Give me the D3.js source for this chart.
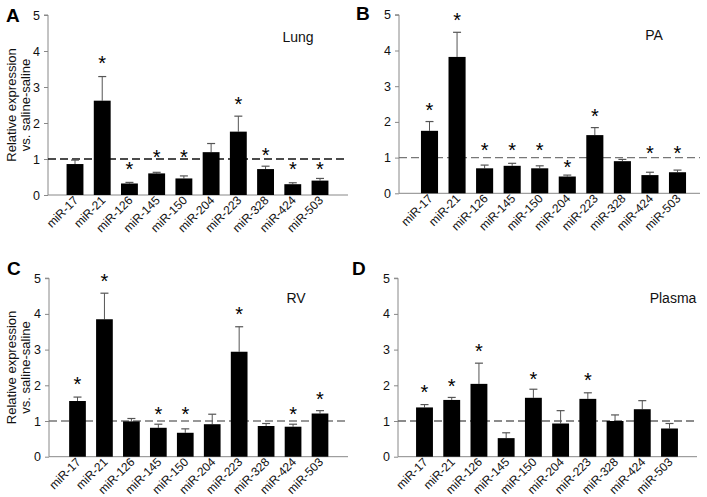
<!DOCTYPE html>
<html><head><meta charset="utf-8">
<script src="https://cdn.jsdelivr.net/npm/d3@7"></script>
<style>body{margin:0;background:#fff;} svg{display:block;font-family:"Liberation Sans",Arial,sans-serif;}</style>
</head><body>
<svg id="c" width="707" height="497"></svg>
<script>
const categories = ["miR-17","miR-21","miR-126","miR-145","miR-150","miR-204","miR-223","miR-328","miR-424","miR-503"];
const yTicks = [0,1,2,3,4,5];

const lungMean = [0.86,2.62,0.32,0.60,0.46,1.19,1.76,0.72,0.30,0.40];
const lungErr  = [0.97,3.29,0.35,0.63,0.53,1.43,2.19,0.80,0.34,0.46];
const lungStar = [null,3.77,0.83,1.16,1.16,null,2.65,1.22,0.83,0.83];

const paMean = [1.75,3.82,0.70,0.77,0.70,0.47,1.63,0.90,0.51,0.59];
const paErr  = [2.01,4.51,0.79,0.84,0.77,0.51,1.84,0.95,0.59,0.65];
const paStar = [2.45,4.98,1.33,1.33,1.33,0.84,2.29,null,1.24,1.24];

const rvMean = [1.56,3.85,0.99,0.81,0.67,0.91,2.94,0.86,0.84,1.21];
const rvErr  = [1.67,4.58,1.07,0.91,0.78,1.19,3.64,0.93,0.91,1.29];
const rvStar = [2.15,5.03,null,1.31,1.31,null,4.11,null,1.31,1.72];

const plMean = [1.38,1.59,2.04,0.52,1.65,0.93,1.62,1.00,1.33,0.79];
const plErr  = [1.46,1.66,2.62,0.67,1.89,1.29,1.79,1.17,1.57,0.93];
const plStar = [1.92,2.10,3.07,null,2.29,null,2.26,null,null,null];

const panels = [
  {letter:"A", title:"Lung", mean:lungMean, err:lungErr, star:lungStar,
   ax0:48, ax1:348, c0:75, c1:320, y0:195, y5:15, ylab:true, dash:"#111", lx:6, ly:22, tx:298, ty:42},
  {letter:"B", title:"PA", mean:paMean, err:paErr, star:paStar,
   ax0:399, ax1:700, c0:429.5, c1:677.5, y0:193.3, y5:14.8, ylab:false, dash:"#777", lx:356, ly:20, tx:654, ty:40},
  {letter:"C", title:"RV", mean:rvMean, err:rvErr, star:rvStar,
   ax0:49, ax1:348, c0:77.5, c1:320, y0:456.7, y5:278.2, ylab:true, dash:"#777", lx:7, ly:275, tx:296, ty:303},
  {letter:"D", title:"Plasma", mean:plMean, err:plErr, star:plStar,
   ax0:398, ax1:697, c0:424.5, c1:669.5, y0:456.7, y5:278.2, ylab:false, dash:"#666", lx:352, ly:275, tx:673, ty:303}
];

const svg = d3.select("#c");
const starSize = 20;

panels.forEach(p => {
  const g = svg.append("g");
  const step = (p.c1 - p.c0) / (categories.length - 1);
  const x = d3.scaleBand().domain(categories)
    .range([p.c0 - step/2, p.c1 + step/2]).paddingInner(0.38).paddingOuter(0.19);
  const y = d3.scaleLinear().domain([0,5]).range([p.y0, p.y5]);
  const bw = x.bandwidth();

  // y axis
  const ya = g.append("g").attr("transform", `translate(${p.ax0},0)`)
    .call(d3.axisLeft(y).tickValues(yTicks).tickFormat(d3.format("d")).tickSize(4).tickPadding(4));
  ya.select(".domain").attr("stroke","#888").attr("d", `M-4,${y(5)}H0V${y(0)}`);
  ya.selectAll(".tick line").attr("stroke","#888");
  ya.selectAll(".tick text").attr("font-size",12.5).attr("fill","#111").attr("font-family","Liberation Sans, Arial, sans-serif");

  // x baseline
  g.append("line").attr("x1",p.ax0).attr("x2",p.ax1).attr("y1",y(0)).attr("y2",y(0))
    .attr("stroke","#888").attr("stroke-width",1);

  // dashed reference at 1
  g.append("line").attr("x1",p.ax0).attr("x2",p.ax1).attr("y1",y(1)).attr("y2",y(1))
    .attr("stroke",p.dash).attr("stroke-width",1.3).attr("stroke-dasharray","8,4");

  const data = categories.map((c,i)=>({c, m:p.mean[i], e:p.err[i], s:p.star[i]}));

  // error bars
  g.selectAll(".eb").data(data).enter().append("line")
    .attr("x1",d=>x(d.c)+bw/2).attr("x2",d=>x(d.c)+bw/2)
    .attr("y1",d=>y(d.m)).attr("y2",d=>y(d.e))
    .attr("stroke","#555").attr("stroke-width",1);
  g.selectAll(".cap").data(data).enter().append("line")
    .attr("x1",d=>x(d.c)+bw/2-4).attr("x2",d=>x(d.c)+bw/2+4)
    .attr("y1",d=>y(d.e)).attr("y2",d=>y(d.e))
    .attr("stroke","#555").attr("stroke-width",1.2);

  // bars
  g.selectAll(".bar").data(data).enter().append("rect")
    .attr("x",d=>x(d.c)).attr("width",bw)
    .attr("y",d=>y(d.m)).attr("height",d=>y(0)-y(d.m))
    .attr("fill","#000");

  // stars
  g.selectAll(".star").data(data.filter(d=>d.s!=null)).enter().append("text")
    .attr("x",d=>x(d.c)+bw/2).attr("y",d=>y(d.s)+starSize*0.55)
    .attr("text-anchor","middle").attr("font-size",starSize).attr("fill","#000")
    .text("*");

  // x labels
  g.selectAll(".xl").data(categories).enter().append("text")
    .attr("transform",d=>`translate(${x(d)+bw/2+4},${y(0)+6}) rotate(-45)`)
    .attr("text-anchor","end").attr("font-size",12).attr("fill","#111")
    .text(d=>d);

  // panel letter
  g.append("text").attr("x",p.lx).attr("y",p.ly).attr("font-size",19).attr("font-weight","bold")
    .attr("font-family","Liberation Sans, Arial, sans-serif").text(p.letter);

  // title
  g.append("text").attr("x",p.tx).attr("y",p.ty).attr("text-anchor","middle")
    .attr("font-size",14).attr("fill","#111").text(p.title);

  if (p.ylab) {
    const cy = (y(0)+y(5))/2;
    g.append("text").attr("transform",`translate(16,${cy}) rotate(-90)`)
      .attr("text-anchor","middle").attr("font-size",13).attr("fill","#111").text("Relative expression");
    g.append("text").attr("transform",`translate(30,${cy}) rotate(-90)`)
      .attr("text-anchor","middle").attr("font-size",13).attr("fill","#111").text("vs. saline-saline");
  }
});
</script>
</body></html>
